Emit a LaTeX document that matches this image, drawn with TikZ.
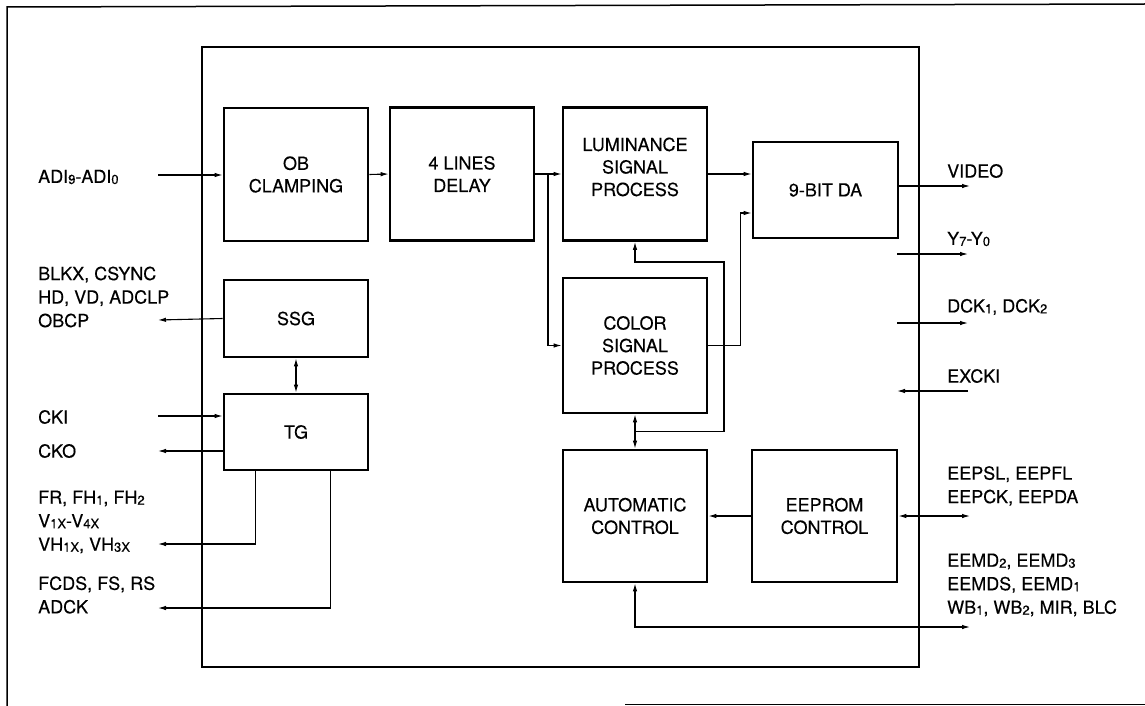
\documentclass[tikz,border=0pt]{standalone}
\usepackage{fontspec}
\setmainfont{TeX Gyre Heros}[FakeBold=0.3]
\usepackage{tikz}
\usetikzlibrary{arrows.meta,positioning,calc}
\newcommand{\sbs}[1]{\raisebox{-1pt}{\fontsize{13}{13}\selectfont #1}}

\begin{document}
\begin{tikzpicture}[x=1pt, y=-1pt,
		blk/.style={draw, line width=2.8pt, align=center, inner sep=0pt,
			font=\fontsize{18}{22.5}\selectfont},
		lbl/.style={anchor=west, align=left, inner sep=0pt,
			font=\fontsize{18}{23.5}\selectfont},
		sig/.style={line width=1.1pt, -{Latex[length=8pt,width=4.5pt]}},
		sigb/.style={line width=1.1pt, {Latex[length=8pt,width=4.5pt]}-{Latex[length=8pt,width=4.5pt]}}]
		\useasboundingbox (0,0) rectangle (1145,706);

		\draw[line width=1.5pt] (1145,4) -- (7,7) -- (7,706);
		\draw[line width=1.5pt] (625,704.5) -- (1145,704.5);
		\draw[line width=1.6pt] (202,47) rectangle (919,667);

		\node[blk, minimum width=144, minimum height=133] (obc) at (296,174.5) {OB\\CLAMPING};
		\node[blk, minimum width=144, minimum height=133] (dly) at (462,174) {4 LINES\\DELAY};
		\node[blk, minimum width=144, minimum height=133] (lum) at (635,174) {LUMINANCE\\SIGNAL\\PROCESS\\[-8pt]};
		\node[blk, minimum width=145, minimum height=96] (da) at (825.5,190) {9-BIT DA};
		\node[blk, minimum width=144, minimum height=135] (col) at (635,345.5) {COLOR\\SIGNAL\\PROCESS};
		\node[blk, minimum width=144, minimum height=77] (ssg) at (296,318.5) {SSG};
		\node[blk, minimum width=144, minimum height=76] (tg) at (296,432) {TG};
		\node[blk, minimum width=144, minimum height=132] (auto) at (635,516) {AUTOMATIC\\CONTROL};
		\node[blk, minimum width=145, minimum height=132] (eep) at (824.5,516) {EEPROM\\CONTROL};

		\node[lbl] (tADI) at (38,177) {ADI\sbs{9}-ADI\sbs{0}};
		\node[lbl] (tSSG) at (38,297) {BLKX, CSYNC\\HD, VD, ADCLP\\OBCP};
		\node[lbl] (tCKI) at (38,417) {CKI};
		\node[lbl] (tCKO) at (38,451) {CKO};
		\node[lbl] (tFR) at (38,522) {FR, FH\sbs{1}, FH\sbs{2}\\V\sbs{1X}-V\sbs{4X}\\VH\sbs{1X}, VH\sbs{3X}};
		\node[lbl] (tFC) at (38,595) {FCDS, FS, RS\\ADCK};
		\node[lbl] (tVID) at (947,171) {VIDEO};
		\node[lbl] (tY) at (947,239) {Y\sbs{7}-Y\sbs{0}};
		\node[lbl] (tDCK) at (947,307) {DCK\sbs{1}, DCK\sbs{2}};
		\node[lbl] (tEXC) at (947,376) {EXCKI};
		\node[lbl] (tEEP) at (947,486) {EEPSL, EEPFL\\EEPCK, EEPDA};
		\node[lbl] (tEEM) at (947,585) {EEMD\sbs{2}, EEMD\sbs{3}\\EEMDS, EEMD\sbs{1}\\WB\sbs{1}, WB\sbs{2}, MIR, BLC};

		\coordinate (inADI) at (158,175);
		\coordinate (outSSG) at (158,320);
		\coordinate (inCKI) at (158,416);
		\coordinate (outCKO) at (158,451);
		\coordinate (outFR) at (158,544);
		\coordinate (outFC) at (158,608);
		\coordinate (brA) at (548,174);
		\coordinate (fbA) at ($(col.south)!0.5!(auto.north)$);
		\coordinate (fbB) at (724,262);
		\coordinate (daIn) at ($(da.west)+(0,23)$);
		\coordinate (outVID) at (970,186);
		\coordinate (yA) at (897,254);
		\coordinate (yB) at (968,254);
		\coordinate (dA) at (897,323);
		\coordinate (dB) at (968,323);
		\coordinate (eA) at (897,391);
		\coordinate (eB) at (968,391);
		\coordinate (outEEP) at (970,516);
		\coordinate (outWB) at (970,627);

		\draw[sig] (inADI) -- (inADI -| obc.west);
		\draw[sig] (obc.east) -- (dly.west);
		\draw[sig] (dly.east) -- (lum.west);
		\draw[sig] (brA) |- (col.west);
		\draw[sig] (lum.east) -- (lum.east -| da.west);
		\draw[sig] (col.east) -- ++(32,0) |- (daIn);
		\draw[sig] (outVID -| da.east) -- (outVID);
		\draw[sig] (yA) -- (yB);
		\draw[sig] (dA) -- (dB);
		\draw[sig] (eB) -- (eA);
		\draw[sigb] (col.south) -- (auto.north);
		\draw[sig] (fbA) -| (fbB) -| (lum.south);
		\draw[sig] (eep.west) -- (auto.east);
		\draw[sigb] (eep.east) -- (outEEP);
		\draw[sigb] (outWB) -| (auto.south);

		\draw[sig] (ssg.west) -- (outSSG);
		\draw[sigb] (ssg.south) -- (tg.north);
		\draw[sig] (inCKI) -- (inCKI -| tg.west);
		\draw[sig] (outCKO -| tg.west) -- (outCKO);
		\draw[sig] ([xshift=33pt]tg.south west) |- (outFR);
		\draw[sig] ([xshift=108pt]tg.south west) |- (outFC);
	\end{tikzpicture}
\end{document}
